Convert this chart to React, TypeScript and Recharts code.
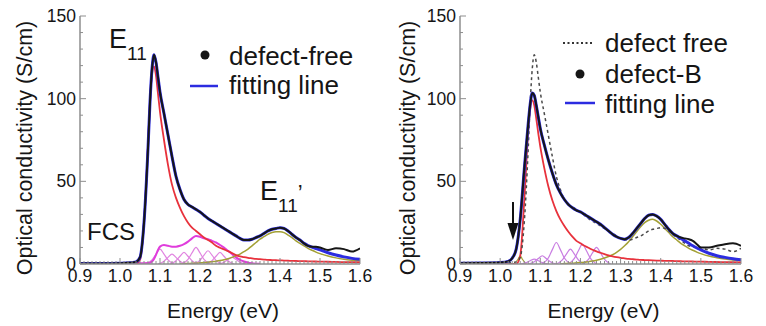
import React from 'react';
import { LineChart, Line, XAxis, YAxis, ReferenceDot } from 'recharts';

// ---------- shared energy grid (eV) ----------
const energy = [0.90, 0.95, 1.00, 1.02, 1.03, 1.04, 1.05, 1.06, 1.07, 1.075, 1.08, 1.085, 1.09, 1.095,
  1.10, 1.11, 1.12, 1.13, 1.14, 1.15, 1.16, 1.17, 1.18, 1.19, 1.20, 1.21, 1.22, 1.23, 1.24, 1.25,
  1.26, 1.27, 1.28, 1.29, 1.30, 1.31, 1.32, 1.33, 1.34, 1.35, 1.36, 1.37, 1.38, 1.39, 1.40,
  1.41, 1.42, 1.43, 1.44, 1.45, 1.46, 1.47, 1.48, 1.49, 1.50, 1.52, 1.54, 1.56, 1.58, 1.60];

// ---------- left panel: defect-free ----------
const defectFree = [0.3, 0.3, 0.5, 0.7, 0.9, 1.3, 4, 25, 70, 98, 118, 126.5, 122, 113,
  104, 91, 78, 65, 53, 45, 39, 36, 34.5, 33, 31.5, 29.5, 27.5, 26, 24.5, 23,
  21.5, 20, 18.5, 17, 15.5, 14.5, 14.5, 15, 16, 17, 18.5, 20, 21, 21.5, 22,
  21.5, 20, 18, 16, 14.5, 12.5, 11, 10.5, 10.5, 10, 8.5, 9.5, 9, 7.5, 9.5];
const fitLeft = [0.3, 0.3, 0.5, 0.7, 0.9, 1.3, 4, 25, 70, 98, 118, 126.5, 122, 113,
  104, 91, 78, 65, 53, 45, 39, 36, 34.5, 33, 31.5, 29.5, 27.5, 26, 24.5, 23,
  21.5, 20, 18.5, 17, 15.5, 14.5, 14.5, 15, 16, 17, 18.5, 20, 21, 21.5, 22,
  21.5, 20, 18, 16, 14.5, 12.5, 11.2, 10.2, 9.3, 8.5, 6.8, 5.4, 4.3, 3.4, 2.8];
const e11Left = [0, 0, 0, 0, 0, 0.2, 2.5, 25, 72, 98, 115, 119.5, 114, 103,
  92, 75, 60, 48, 40, 34, 29, 25, 22, 20, 18, 16, 14.5, 13, 11, 9.8,
  8.8, 7.8, 6.6, 5.4, 4.6, 4.1, 3.7, 3.4, 3.1, 2.9, 2.7, 2.5, 2.4, 2.3, 2.2,
  2.1, 2.0, 1.9, 1.8, 1.75, 1.7, 1.6, 1.55, 1.5, 1.45, 1.35, 1.25, 1.15, 1.1, 1.0];
const e11pLeft = [null, null, null, null, null, null, null, null, null, null, null, null, null, null,
  null, null, null, null, null, 0, 0.2, 0.3, 0.4, 0.5, 0.7, 0.9, 1.1, 1.4, 1.7, 2.1,
  2.6, 3.2, 4, 5, 6, 7.5, 9, 11, 13, 15, 16.5, 18, 19, 19.5, 19.5,
  19, 17.5, 16, 14, 12.5, 11, 9.5, 8.3, 7.2, 6.3, 4.8, 3.7, 2.9, 2.3, 1.8];
const phononSumLeft = [0, 0, 0.2, 0.3, 0.4, 0.5, 0.5, 0.5, 0.6, 0.8, 1.5, 3, 5.5, 8.5,
  10.5, 11.5, 11, 10.5, 10.5, 11, 12, 13.5, 15.5, 17, 16.5, 15.5, 15, 14, 13, 11.5,
  10, 8, 6, 4, 2.5, 1.5, 0.8, 0.4, 0.2, 0.1, null, null, null, null, null,
  null, null, null, null, null, null, null, null, null, null, null, null, null, null, null];

// small side-band peaks, left panel
const lp1E = [1.065, 1.08, 1.09, 1.10, 1.11, 1.12, 1.135];
const lp1V = [0, 2.5, 6, 9, 6, 2.5, 0];
const lp2E = [1.095, 1.11, 1.12, 1.13, 1.14, 1.15, 1.165];
const lp2V = [0, 1.7, 4, 6, 4, 1.7, 0];
const lp3E = [1.125, 1.14, 1.15, 1.16, 1.17, 1.18, 1.195];
const lp3V = [0, 2, 4.7, 7, 4.7, 2, 0];
const lp4E = [1.155, 1.17, 1.18, 1.19, 1.20, 1.21, 1.225];
const lp4V = [0, 2.8, 6.7, 10, 6.7, 2.8, 0];
const lp5E = [1.185, 1.20, 1.21, 1.22, 1.23, 1.24, 1.255];
const lp5V = [0, 2.2, 5.3, 8, 5.3, 2.2, 0];
const lp6E = [1.215, 1.23, 1.24, 1.25, 1.26, 1.27, 1.285];
const lp6V = [0, 2, 4.7, 7, 4.7, 2, 0];
const lp7E = [1.245, 1.26, 1.27, 1.28, 1.29, 1.30, 1.315];
const lp7V = [0, 1.1, 2.7, 4, 2.7, 1.1, 0];

// ---------- right panel: defect-B ----------
const defectB = [0.5, 0.6, 0.9, 1.6, 3.5, 9, 27, 57, 85, 97, 103.5, 102, 96, 89,
  82, 72, 63, 55, 48, 43, 39, 36, 34, 32.5, 31.5, 30, 28.5, 27, 25.5, 24,
  22, 20, 18, 16.5, 15.5, 15, 16, 18.5, 21.5, 24.5, 27.5, 29.5, 30, 29, 27,
  24, 21, 18.5, 17, 16, 15.5, 15, 14, 12, 10, 10, 11, 12, 12.5, 11];
const fitRight = [0.5, 0.6, 0.9, 1.6, 3.5, 9, 27, 57, 85, 97, 103.5, 102, 96, 89,
  82, 72, 63, 55, 48, 43, 39, 36, 34, 32.5, 31.5, 30, 28.5, 27, 25.5, 24,
  22, 20, 18, 16.5, 15.5, 15, 16, 18.5, 21.5, 24.5, 27.5, 29.5, 30, 29, 27,
  24, 21, 18.5, 17, 15.5, 14, 12.5, 11, 9.7, 8.5, 6.5, 5, 4, 3.2, 2.6];
const e11Right = [0, 0, 0, 0, 0, 0, 5, 38, 80, 94, 99, 96, 88, 79,
  71, 58, 47, 38.5, 32, 27, 23, 19.5, 16.5, 14, 12.5, 11, 9.8, 8.6, 7.6, 6.8,
  6, 5.2, 4.6, 4.1, 3.7, 3.4, 3.1, 2.9, 2.7, 2.5, 2.4, 2.3, 2.2, 2.1, 2.0,
  1.9, 1.85, 1.8, 1.7, 1.65, 1.6, 1.55, 1.5, 1.45, 1.4, 1.3, 1.2, 1.1, 1.05, 1.0];
const e11pRight = [null, null, null, null, null, null, null, null, null, null, null, null, null, null,
  null, null, null, null, null, 0, 0.3, 0.4, 0.5, 0.7, 0.9, 1.1, 1.4, 1.8, 2.3, 2.9,
  3.6, 4.5, 5.6, 7, 8.8, 11, 13.5, 16.5, 19.5, 22.5, 25, 26.5, 27, 26, 24,
  21.5, 19, 16.5, 14.5, 12.5, 11, 9.5, 8.3, 7.2, 6.3, 4.8, 3.8, 3.0, 2.4, 2.0];

// small peaks, right panel
const rp0E = [1.035, 1.045, 1.05, 1.055, 1.065];
const rp0V = [0, 3, 5, 3, 0];
const rp1E = [1.07, 1.085, 1.095, 1.105, 1.115, 1.125, 1.14];
const rp1V = [0, 1.4, 3.3, 5, 3.3, 1.4, 0];
const rp2E = [1.105, 1.12, 1.13, 1.14, 1.15, 1.16, 1.175];
const rp2V = [0, 3.6, 8.7, 13, 8.7, 3.6, 0];
const rp3E = [1.14, 1.155, 1.165, 1.175, 1.185, 1.195, 1.21];
const rp3V = [0, 2.5, 6, 9, 6, 2.5, 0];
const rp4E = [1.17, 1.185, 1.195, 1.205, 1.215, 1.225, 1.24];
const rp4V = [0, 3.4, 8, 12, 8, 3.4, 0];
const rp5E = [1.205, 1.22, 1.23, 1.24, 1.25, 1.26, 1.275];
const rp5V = [0, 2.8, 6.7, 10, 6.7, 2.8, 0];
const rp6E = [1.05, 1.065, 1.075, 1.085, 1.095, 1.105, 1.12];
const rp6V = [0, 0.8, 2, 3, 2, 0.8, 0];

// ---------- axes ----------
const xMajor = [0.9, 1.0, 1.1, 1.2, 1.3, 1.4, 1.5, 1.6];
const yMajor = [0, 50, 100, 150];
const xLabel = 'Energy (eV)';
const yLabel = 'Optical conductivity (S/cm)';

function buildTicks(major: number[], sub: number) {
  const out: number[] = [];
  for (let i = 0; i < major.length - 1; i++) {
    for (let j = 0; j < sub; j++) {
      out.push(+(major[i] + ((major[i + 1] - major[i]) * j) / sub).toFixed(4));
    }
  }
  out.push(major[major.length - 1]);
  return out;
}
const xTicks = buildTicks(xMajor, 10);
const yTicks = buildTicks(yMajor, 5);
const isMajor = (v: number, major: number[]) => major.some((m) => Math.abs(m - v) < 1e-6);

const series = (xs: number[], ys: (number | null)[]) => xs.map((x, i) => ({ x, y: ys[i] }));

const FONT = '"Liberation Sans", Arial, Helvetica, sans-serif';
const AX = '#8e8e8e';
const TXT = '#151515';

const BottomTick = (p: any) => {
  const { x, y, payload } = p;
  const maj = isMajor(payload.value, xMajor);
  return (
    <g>
      <line x1={x} x2={x} y1={y} y2={y - (maj ? 6 : 3)} stroke={AX} strokeWidth={1} />
      {maj && (
        <text x={x} y={y + 18} textAnchor="middle" fontSize={17.5} fill={TXT} fontFamily={FONT}>
          {payload.value.toFixed(1)}
        </text>
      )}
    </g>
  );
};
const TopTick = (p: any) => {
  const { x, y, payload } = p;
  const maj = isMajor(payload.value, xMajor);
  return <line x1={x} x2={x} y1={y} y2={y + (maj ? 6 : 3)} stroke={AX} strokeWidth={1} />;
};
const LeftTick = (p: any) => {
  const { x, y, payload } = p;
  const maj = isMajor(payload.value, yMajor);
  return (
    <g>
      <line x1={x} x2={x + (maj ? 6 : 3)} y1={y} y2={y} stroke={AX} strokeWidth={1} />
      {maj && (
        <text x={x - 4} y={y + 6} textAnchor="end" fontSize={17.5} fill={TXT} fontFamily={FONT}>
          {payload.value}
        </text>
      )}
    </g>
  );
};
const RightTick = (p: any) => {
  const { x, y, payload } = p;
  const maj = isMajor(payload.value, yMajor);
  return <line x1={x} x2={x - (maj ? 6 : 3)} y1={y} y2={y} stroke={AX} strokeWidth={1} />;
};

const C = {
  black: '#161616',
  blue: '#2c2ce0',
  red: '#e8323c',
  olive: '#a3a035',
  magenta: '#e03cdc',
  thinMag: '#e184e0',
  thinPurple: '#c97ee2',
  dashed: '#4a4a4a',
};

type PanelProps = { plotLeft: number; right: number; children: React.ReactNode; xLabelShift: number };

function Panel({ plotLeft, right, children, xLabelShift }: PanelProps) {
  return (
    <LineChart width={383} height={326} margin={{ top: 16, right, bottom: 0, left: 0 }}>
      <XAxis
        dataKey="x"
        type="number"
        domain={[0.9, 1.6]}
        ticks={xTicks}
        interval={0}
        allowDataOverflow
        height={62}
        tickSize={0}
        tickMargin={0}
        tickLine={false}
        tick={<BottomTick />}
        axisLine={{ stroke: AX, strokeWidth: 1.5 }}
        label={{
          content: (lp: any) => {
            const vb = lp.viewBox;
            return (
              <text x={vb.x + vb.width / 2 + xLabelShift} y={vb.y + 54} textAnchor="middle" fontSize={21} fill={TXT} fontFamily={FONT}>
                {xLabel}
              </text>
            );
          },
        }}
      />
      <XAxis
        xAxisId="top"
        orientation="top"
        dataKey="x"
        type="number"
        domain={[0.9, 1.6]}
        ticks={xTicks}
        interval={0}
        allowDataOverflow
        height={0}
        tickSize={0}
        tickMargin={0}
        tickLine={false}
        tick={<TopTick />}
        axisLine={{ stroke: AX, strokeWidth: 1.5 }}
      />
      <YAxis
        type="number"
        domain={[0, 150]}
        ticks={yTicks}
        interval={0}
        allowDataOverflow
        width={plotLeft}
        tickSize={0}
        tickMargin={0}
        tickLine={false}
        tick={<LeftTick />}
        axisLine={{ stroke: AX, strokeWidth: 1.5 }}
        label={{
          content: () => (
            <text
              transform={`translate(${25},${148}) rotate(-90)`}
              textAnchor="middle"
              dominantBaseline="central"
              fontSize={21.5}
              fill={TXT}
              fontFamily={FONT}
            >
              {yLabel}
            </text>
          ),
        }}
      />
      <YAxis
        yAxisId="right"
        orientation="right"
        type="number"
        domain={[0, 150]}
        ticks={yTicks}
        interval={0}
        allowDataOverflow
        width={0}
        tickSize={0}
        tickMargin={0}
        tickLine={false}
        tick={<RightTick />}
        axisLine={{ stroke: AX, strokeWidth: 1.5 }}
      />
      {children}
    </LineChart>
  );
}

const thin = (xs: number[], ys: number[], color: string, key: string) => (
  <Line
    key={key}
    data={series(xs, ys)}
    dataKey="y"
    type="monotone"
    stroke={color}
    strokeWidth={1.2}
    dot={false}
    isAnimationActive={false}
  />
);

const main = (xs: number[], ys: (number | null)[], color: string, w: number, key: string, dash?: string) => (
  <Line
    key={key}
    data={series(xs, ys)}
    dataKey="y"
    type="monotone"
    stroke={color}
    strokeWidth={w}
    strokeDasharray={dash}
    dot={false}
    isAnimationActive={false}
  />
);

const Arrow = (p: any) => {
  const { cx, cy } = p;
  return (
    <g>
      <line x1={cx} x2={cx} y1={cy - 38} y2={cy - 14} stroke="#111" strokeWidth={2} />
      <polygon points={`${cx - 5.5},${cy - 17} ${cx + 5.5},${cy - 17} ${cx},${cy}`} fill="#111" />
    </g>
  );
};

export default function App() {
  return (
    <div style={{ position: 'absolute', left: 0, top: 0, width: 766, height: 326, background: '#fff', overflow: 'hidden' }}>
      <div style={{ position: 'absolute', left: 0, top: 0 }}>
        <Panel plotLeft={80} right={23} xLabelShift={3}>
          {thin(lp1E, lp1V, C.thinMag, 'lp1')}
          {thin(lp2E, lp2V, C.thinMag, 'lp2')}
          {thin(lp3E, lp3V, C.thinMag, 'lp3')}
          {thin(lp4E, lp4V, C.thinMag, 'lp4')}
          {thin(lp5E, lp5V, C.thinMag, 'lp5')}
          {thin(lp6E, lp6V, C.thinMag, 'lp6')}
          {thin(lp7E, lp7V, C.thinMag, 'lp7')}
          {main(energy, phononSumLeft, C.magenta, 2, 'psum')}
          {main(energy, e11pLeft, C.olive, 1.5, 'e11p')}
          {main(energy, e11Left, C.red, 1.8, 'e11')}
          {main(energy, fitLeft, C.blue, 3, 'fit')}
          {main(energy, defectFree, C.black, 2, 'data')}
        </Panel>
      </div>
      <div style={{ position: 'absolute', left: 383, top: 0 }}>
        <Panel plotLeft={77} right={25} xLabelShift={3}>
          {thin(rp0E, rp0V, C.olive, 'rp0')}
          {thin(rp6E, rp6V, C.thinPurple, 'rp6')}
          {thin(rp1E, rp1V, C.thinPurple, 'rp1')}
          {thin(rp2E, rp2V, C.thinPurple, 'rp2')}
          {thin(rp3E, rp3V, C.thinPurple, 'rp3')}
          {thin(rp4E, rp4V, C.thinPurple, 'rp4')}
          {thin(rp5E, rp5V, C.thinPurple, 'rp5')}
          {main(energy, e11pRight, C.olive, 1.5, 'e11p')}
          {main(energy, e11Right, C.red, 1.8, 'e11')}
          {main(energy, defectFree, C.dashed, 1.5, 'free', '3 3')}
          {main(energy, fitRight, C.blue, 3, 'fit')}
          {main(energy, defectB, C.black, 2, 'data')}
          <ReferenceDot x={1.032} y={14.5} r={0} ifOverflow="visible" shape={<Arrow />} />
        </Panel>
      </div>
      <svg width={766} height={326} style={{ position: 'absolute', left: 0, top: 0, pointerEvents: 'none' }} fontFamily={FONT}>
        {/* left annotations */}
        <text x={109} y={48} fontSize={27} fill={TXT}>
          E<tspan fontSize={19} dy={12}>11</tspan>
        </text>
        <text x={260} y={200} fontSize={27} fill={TXT}>
          E<tspan fontSize={19} dy={12}>11</tspan>
          <tspan fontSize={22} dy={-12}>’</tspan>
        </text>
        <text x={87} y={240} fontSize={24} fill={TXT}>FCS</text>
        {/* left legend */}
        <circle cx={205} cy={55} r={4.5} fill={C.black} />
        <text x={229} y={65} fontSize={26} fill={TXT}>defect-free</text>
        <line x1={190} x2={218} y1={86} y2={86} stroke={C.blue} strokeWidth={2.5} />
        <text x={229} y={94} fontSize={26} fill={TXT}>fitting line</text>
        {/* right legend */}
        <line x1={563} x2={592} y1={43} y2={43} stroke="#333" strokeWidth={2} strokeDasharray="2 2.5" />
        <text x={605} y={52} fontSize={26} fill={TXT}>defect free</text>
        <circle cx={580} cy={74} r={4.5} fill={C.black} />
        <text x={605} y={83} fontSize={26} fill={TXT}>defect-B</text>
        <line x1={565} x2={595} y1={103} y2={103} stroke={C.blue} strokeWidth={2.5} />
        <text x={605} y={113} fontSize={26} fill={TXT}>fitting line</text>
      </svg>
    </div>
  );
}
